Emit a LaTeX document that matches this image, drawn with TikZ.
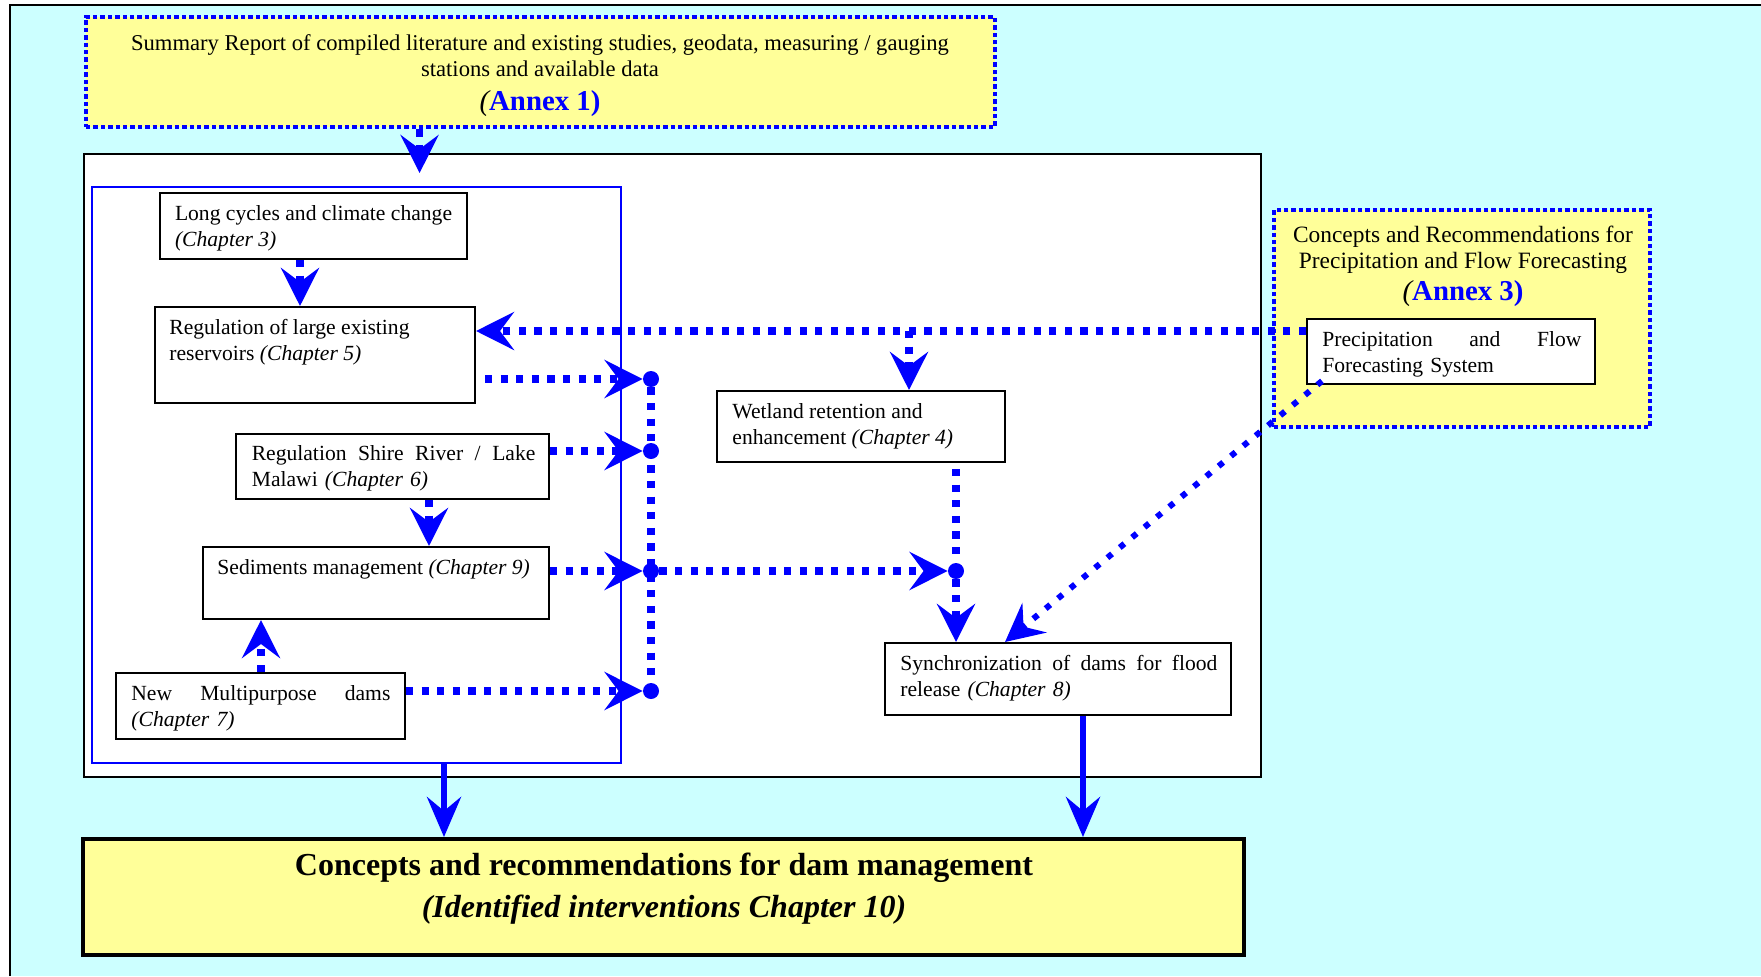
\documentclass[tikz,border=0pt]{standalone}
\usepackage{fontspec}
\setmainfont{Liberation Serif}
\usetikzlibrary{arrows.meta,fit,calc}
\definecolor{bgcyan}{HTML}{CCFFFF}
\definecolor{paleyellow}{HTML}{FFFF99}
\definecolor{myblue}{HTML}{0000FF}
\begin{document}
\begin{tikzpicture}[x=0.5pt,y=-0.5pt,
  box/.style={draw=black, line width=1pt, fill=white, inner sep=0pt},
  annexbox/.style={draw=myblue, fill=paleyellow, line width=2.3pt, dash pattern=on 2.2pt off 1.5pt, inner sep=0pt},
  txt/.style={inner sep=0pt, anchor=north west, align=left, font=\fontsize{10.8}{13}\selectfont},
  annexlab/.style={inner sep=0pt, anchor=base, text=myblue, font=\fontsize{14.4}{16}\selectfont\bfseries},
  dotl/.style={draw=myblue, line width=3.6pt, dash pattern=on 3.6pt off 4.2pt},
  diagl/.style={draw=myblue, line width=3pt, dash pattern=on 3pt off 5pt},
  solidl/.style={draw=myblue, line width=3pt},
  tipd/.style={-{Stealth[length=19pt,width=19pt,inset=7pt]}},
  tips/.style={-{Stealth[length=20pt,width=17pt,inset=7pt]}},
  dotnode/.style={circle, fill=myblue, inner sep=0pt, minimum size=8pt},
]
\useasboundingbox (0,0) rectangle (1761,976);
\fill[white] (0,0) rectangle (1761,976);
\fill[bgcyan] (10,5) rectangle (1761,976);
\draw[line width=1pt] (10,976) -- (10,5) -- (1761,5);

% main containers
\node[fit={(84,154) (1261,777)}, draw=black, line width=1pt, fill=white, inner sep=0pt] (wb) {};
\node[fit={(92,187) (621,763)}, draw=myblue, line width=1.2pt, inner sep=0pt] (bb) {};

% Annex 1
\node[annexbox, fit={(86,17) (995,127)}] (a1) {};
\node[inner sep=0pt, anchor=north, align=center, font=\fontsize{11.3}{13}\selectfont] (a1t) at (540,31.8)
  {\strut Summary Report of compiled literature and existing studies, geodata, measuring / gauging\\stations and available data};
\node[annexlab] (a1a) at (540,110) {{\normalfont\itshape\color{black}(}Annex 1)};

% Annex 3
\node[annexbox, fit={(1274,210) (1650,427)}] (a3) {};
\node[inner sep=0pt, anchor=north, align=center, font=\fontsize{11.7}{13.3}\selectfont] (a3t) at (1463,223)
  {\strut Concepts and Recommendations for\\Precipitation and Flow Forecasting};
\node[annexlab] (a3a) at (1463,300) {{\normalfont\itshape\color{black}(}Annex 3)};
\node[box, fit={(1307,319) (1595,384)}] (pf) {};
\node[txt, text width=129.5pt] (pft) at (1322,327.8) {\strut Precipitation\hfill and\hfill Flow\\Forecasting System};

% boxes
\node[box, fit={(160,193) (467,259)}] (lc) {};
\node[txt] (lct) at (174.6,201.8) {\strut Long cycles and climate change\\\textit{(Chapter 3)}};
\node[box, fit={(155,307) (475,403)}] (rr) {};
\node[txt] (rrt) at (169,315.8) {\strut Regulation of large existing\\reservoirs \textit{(Chapter 5)}};
\node[box, fit={(236,434) (549,499)}] (sh) {};
\node[txt, text width=141.8pt] (sht) at (251.4,441.8) {\strut Regulation\hfill Shire\hfill River\hfill /\hfill Lake\\Malawi \textit{(Chapter 6)}};
\node[box, fit={(203,547) (549,619)}] (sd) {};
\node[txt] (sdt) at (217,555.8) {\strut Sediments management \textit{(Chapter 9)}};
\node[box, fit={(116,673) (405,739)}] (nm) {};
\node[txt, text width=129.5pt] (nmt) at (131,681.8) {\strut New\hfill Multipurpose\hfill dams\\\textit{(Chapter 7)}};
\node[box, fit={(717,391) (1005,462)}] (wl) {};
\node[txt] (wlt) at (732,399.8) {\strut Wetland retention and\\enhancement \textit{(Chapter 4)}};
\node[box, fit={(885,643) (1231,715)}] (sy) {};
\node[txt, text width=158.5pt] (syt) at (900,651.8) {\strut Synchronization\hfill of\hfill dams\hfill for\hfill flood\\release \textit{(Chapter 8)}};

% bottom box
\node[fit={(83,839) (1244,955)}, draw=black, line width=2pt, fill=paleyellow, inner sep=0pt] (bt) {};
\node[inner sep=0pt, anchor=north, align=center, font=\fontsize{16}{21}\selectfont\bfseries] (btt) at (664,845.6)
  {\strut Concepts and recommendations for dam management\\\textit{(Identified interventions Chapter 10)}};

% junction dots
\node[dotnode] (d1) at (651,379) {};
\node[dotnode] (d2) at (651,451) {};
\node[dotnode] (d3) at (651,571) {};
\node[dotnode] (d4) at (651,691) {};
\node[dotnode] (d5) at (956,571) {};

% helper coordinates
\coordinate (ca1) at (419.6,173);
\coordinate (xlc) at (300,0);
\coordinate (xsh) at (429,0);
\coordinate (xnm) at (261,0);
\coordinate (yfl) at (0,331);
\coordinate (xbr) at (909,331);
\coordinate (rrs) at (485,379);
\coordinate (dgs) at (1322,381);
\coordinate (dge) at (1005,642);
\coordinate (xbb) at (444,0);
\coordinate (xsy) at (1083,0);

% connectors
\draw[dotl,tipd] (a1.south -| ca1) -- (ca1);
\draw[dotl,tipd] (lc.south -| xlc) -- (rr.north -| xlc);
\draw[dotl,tipd] (pf.west |- yfl) -- (rr.east |- yfl);
\draw[dotl,tipd] (xbr) -- (wl.north -| xbr);
\draw[dotl,tipd] (rrs) -- (d1);
\draw[dotl,tipd] (sh.east |- d2) -- (d2);
\draw[dotl,tipd] (sd.east |- d3) -- (d3);
\draw[dotl,tipd] (nm.east |- d4) -- (d4);
\draw[dotl] (d1) -- (d4);
\draw[dotl,tipd] (d3) -- (d5);
\draw[dotl, shorten <=3pt] (wl.south -| d5) -- (d5);
\draw[dotl,tipd] (d5) -- (sy.north -| d5);
\draw[dotl,tipd] (sh.south -| xsh) -- (sd.north -| xsh);
\draw[dotl,tipd] (nm.north -| xnm) -- (sd.south -| xnm);
\draw[diagl,tipd] (dgs) -- (dge);
\draw[solidl,tips] (bb.south -| xbb) -- (bt.north -| xbb);
\draw[solidl,tips] (sy.south -| xsy) -- (bt.north -| xsy);
\end{tikzpicture}
\end{document}
